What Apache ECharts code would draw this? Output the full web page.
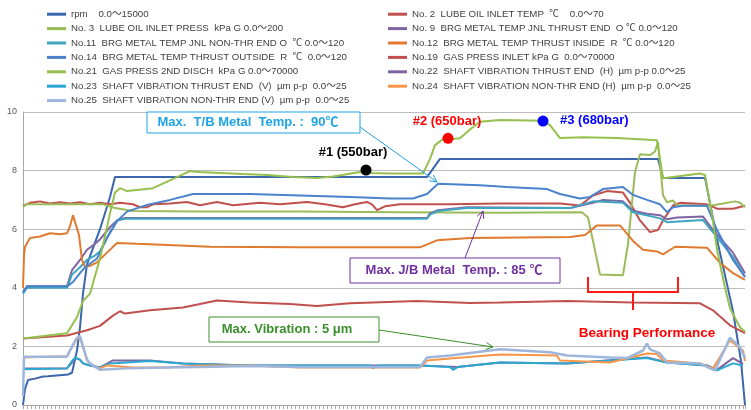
<!DOCTYPE html>
<html>
<head>
<meta charset="utf-8">
<script src="https://cdn.jsdelivr.net/npm/echarts@6/dist/echarts.min.js"></script>
<style>
  html, body { margin: 0; padding: 0; background: #fff; }
  #chart { width: 751px; height: 410px; }
</style>
</head>
<body>
<div id="chart"></div>
<script>
// time axis is just sample position (0..722), values on the common 0-10 scale
const rpm = [[0,0],[2,0.55],[5,0.85],[12,0.9],[20,0.97],[25,0.98],[27,1.04],[45,1.04],[49,1.1],[54,1.86],[57,2.65],[60,3.8],[64,4.8],[77,6.0],[87,7.1],[92,7.78],[404,7.78],[417,8.4],[635,8.4],[640,7.75],[682,7.75],[695,5.5],[710,3.2],[718,1.5],[722,0]];
const no2 = [[0,6.8],[7,6.9],[17,6.95],[27,6.88],[37,6.92],[47,6.88],[57,6.92],[67,6.85],[77,6.9],[87,6.85],[97,6.9],[110,6.85],[117,6.75],[124,6.75],[130,6.85],[147,6.88],[164,6.93],[177,6.82],[194,6.93],[210,6.82],[237,6.9],[257,6.85],[284,6.93],[302,6.85],[320,6.75],[332,6.85],[344,6.93],[349,6.85],[354,6.65],[362,6.78],[377,6.85],[427,6.85],[477,6.88],[537,6.88],[557,6.81],[570,7.15],[584,7.3],[600,7.25],[607,6.9],[617,6.3],[627,5.9],[635,5.97],[640,6.3],[650,6.81],[657,6.9],[684,6.85],[694,6.7],[710,6.7],[722,6.8]];
const no3 = [[0,6.75],[3,6.85],[80,6.85],[92,6.72],[110,6.62],[177,6.6],[277,6.6],[377,6.58],[477,6.56],[559,6.58],[565,6.4],[570,5.6],[577,4.45],[600,4.43],[605,5.5],[612,7.95],[617,8.56],[627,8.53],[632,8.65],[635,8.97],[640,7.16],[644,6.92],[650,6.98],[654,6.82],[687,6.8],[712,6.95],[717,6.9],[722,6.75]];
const no9 = [[0,3.85],[4,4.05],[44,4.05],[49,4.6],[57,4.95],[64,5.3],[72,5.5],[77,5.65],[87,6.07],[94,6.3],[102,6.38],[404,6.38],[407,6.54],[415,6.65],[444,6.75],[547,6.72],[570,6.9],[580,7.0],[600,6.95],[610,6.63],[624,6.53],[637,6.48],[644,6.34],[654,6.4],[680,6.43],[690,5.97],[710,5.2],[722,4.5]];
const no11 = [[0,3.8],[4,4.0],[44,4.0],[49,4.45],[57,4.7],[64,4.95],[72,5.1],[77,5.25],[87,5.9],[94,6.3],[102,6.36],[404,6.36],[407,6.5],[415,6.62],[444,6.72],[547,6.72],[570,6.95],[600,6.9],[610,6.58],[637,6.37],[644,6.24],[680,6.31],[694,5.73],[710,5.05],[722,4.37]];
const no12 = [[0,4.0],[1,5.1],[2,5.4],[7,5.7],[17,5.75],[27,5.86],[37,5.83],[44,5.86],[47,6.1],[50,6.48],[52,6.25],[54,6.3],[56,5.8],[59,4.95],[62,4.72],[67,4.75],[74,4.87],[84,5.2],[94,5.53],[114,5.5],[187,5.4],[277,5.38],[397,5.38],[414,5.62],[447,5.7],[547,5.73],[562,5.8],[574,6.13],[597,6.13],[610,5.6],[620,5.3],[634,5.24],[640,5.14],[652,5.4],[684,5.37],[697,4.85],[710,4.5],[722,4.27]];
const no14 = [[0,3.85],[4,4.05],[44,4.05],[50,4.2],[57,4.5],[62,4.7],[74,5.0],[84,5.7],[94,6.27],[104,6.6],[124,6.83],[147,7.0],[170,7.2],[227,7.2],[277,7.15],[327,7.1],[367,7.05],[390,7.05],[404,7.2],[415,7.55],[457,7.5],[484,7.44],[524,7.37],[537,7.2],[557,7.05],[567,7.1],[580,7.37],[600,7.44],[610,7.17],[624,7.0],[637,6.85],[644,6.58],[650,6.75],[660,6.8],[684,6.8],[694,5.97],[710,4.95],[722,4.37]];
const no19 = [[0,2.27],[44,2.37],[64,2.55],[77,2.7],[90,3.05],[97,3.2],[102,3.12],[127,3.23],[160,3.33],[194,3.57],[227,3.5],[267,3.45],[294,3.38],[327,3.47],[394,3.55],[447,3.48],[477,3.5],[544,3.55],[610,3.5],[677,3.47],[690,3.23],[707,2.72],[722,2.45]];
const no21 = [[0,2.27],[44,2.45],[54,3.0],[60,3.55],[67,3.8],[72,4.4],[77,5.0],[87,6.54],[92,7.25],[97,7.4],[104,7.3],[130,7.4],[167,7.98],[177,7.95],[197,7.92],[220,7.88],[244,7.85],[270,7.78],[294,7.75],[310,7.8],[337,7.95],[350,7.92],[367,7.9],[400,7.9],[407,8.4],[412,8.87],[419,9.05],[437,9.1],[447,9.4],[457,9.67],[477,9.73],[520,9.7],[527,9.55],[537,9.11],[560,9.14],[594,9.11],[634,9.04],[640,7.74],[677,7.9],[682,7.85],[689,6.5],[694,5.3],[702,4.0],[707,3.3],[717,2.65],[722,2.5]];
const no22 = [[0,1.25],[44,1.25],[49,1.45],[52,1.6],[57,1.55],[60,1.42],[67,1.35],[77,1.28],[90,1.52],[127,1.52],[160,1.42],[227,1.35],[327,1.35],[397,1.35],[434,1.3],[477,1.45],[544,1.42],[624,1.62],[644,1.45],[684,1.35],[694,1.2],[710,1.6],[720,1.4]];
const no23 = [[0,1.22],[44,1.25],[49,1.5],[52,1.62],[57,1.55],[60,1.42],[67,1.35],[77,1.28],[87,1.42],[127,1.5],[160,1.42],[227,1.35],[347,1.35],[350,1.25],[355,1.35],[397,1.35],[427,1.3],[430,1.2],[435,1.3],[477,1.45],[544,1.42],[624,1.6],[644,1.45],[684,1.35],[694,1.18],[710,1.42],[720,1.35]];
const no24 = [[0,1.62],[2,1.68],[44,1.66],[49,1.97],[54,2.27],[57,2.3],[60,1.97],[64,1.52],[67,1.42],[74,1.28],[77,1.25],[84,1.35],[110,1.28],[144,1.28],[177,1.35],[227,1.35],[277,1.28],[397,1.28],[404,1.52],[427,1.59],[477,1.72],[534,1.69],[537,1.52],[587,1.45],[624,1.76],[634,1.74],[640,1.52],[677,1.42],[690,1.25],[707,2.2],[720,1.86],[722,1.5]];
const no25 = [[0,0.3],[1,1.65],[44,1.65],[49,2.0],[54,2.3],[57,2.35],[60,2.0],[64,1.55],[67,1.42],[77,1.2],[104,1.25],[144,1.28],[177,1.3],[227,1.33],[277,1.3],[397,1.3],[404,1.62],[427,1.69],[467,1.86],[477,1.9],[527,1.8],[544,1.69],[587,1.62],[604,1.6],[620,1.86],[624,2.1],[627,1.9],[637,1.76],[644,1.45],[677,1.42],[687,1.25],[692,1.18],[707,2.3],[717,1.97],[722,1.6]];

// pressure test points on No.21
const testPoints = [
  { coord: [343, 8.02], color: '#000000' },
  { coord: [425, 9.1], color: '#ff0000' },
  { coord: [520, 9.69], color: '#0000ff' }
];

const names = {
  rpm: 'rpm    0.0～15000',
  no2: 'No. 2  LUBE OIL INLET TEMP  ℃    0.0～70',
  no3: 'No. 3  LUBE OIL INLET PRESS  kPa G 0.0～200',
  no9: 'No. 9  BRG METAL TEMP JNL THRUST END  O ℃ 0.0～120',
  no11: 'No.11  BRG METAL TEMP JNL NON-THR END O  ℃ 0.0～120',
  no12: 'No.12  BRG METAL TEMP THRUST INSIDE  R  ℃ 0.0～120',
  no14: 'No.14  BRG METAL TEMP THRUST OUTSIDE  R  ℃  0.0～120',
  no19: 'No.19  GAS PRESS INLET kPa G  0.0～70000',
  no21: 'No.21  GAS PRESS 2ND DISCH  kPa G 0.0～70000',
  no22: 'No.22  SHAFT VIBRATION THRUST END  (H)  µm p-p 0.0～25',
  no23: 'No.23  SHAFT VIBRATION THRUST END  (V)  µm p-p  0.0～25',
  no24: 'No.24  SHAFT VIBRATION NON-THR END (H)  µm p-p  0.0～25',
  no25: 'No.25  SHAFT VIBRATION NON-THR END (V)  µm p-p  0.0～25'
};

const seriesDefs = [
  ['rpm', rpm, '#3c66ae', 2],
  ['no2', no2, '#c0504d', 2],
  ['no3', no3, '#9bbb59', 2],
  ['no9', no9, '#8064a2', 2],
  ['no11', no11, '#3fa6c0', 2],
  ['no12', no12, '#e07a2e', 2],
  ['no14', no14, '#4a82cc', 2],
  ['no19', no19, '#c0504d', 2],
  ['no21', no21, '#96c04e', 2],
  ['no22', no22, '#8064a2', 2],
  ['no23', no23, '#2aa8d0', 2],
  ['no24', no24, '#f79646', 2],
  ['no25', no25, '#9fb6dc', 2.5]
];

const font = "'Liberation Sans', 'Noto Sans CJK JP', sans-serif";
const legendFont = "'Liberation Sans Narrow', 'Liberation Sans', 'Noto Sans CJK JP', sans-serif";

const series = seriesDefs.map(function (d) {
  const s = {
    name: names[d[0]],
    type: 'line',
    data: d[1],
    symbol: 'none',
    color: d[2],
    lineStyle: { width: d[3], color: d[2] },
    silent: true
  };
  if (d[0] === 'no21') {
    s.markPoint = {
      symbol: 'circle',
      symbolSize: 11,
      label: { show: false },
      data: testPoints.map(function (p) {
        return { coord: p.coord, itemStyle: { color: p.color } };
      })
    };
  }
  return s;
});

const legendBase = {
  orient: 'vertical',
  top: 2,
  itemWidth: 19,
  itemHeight: 3,
  itemGap: 0,
  icon: 'rect',
  selectedMode: false,
  textStyle: { fontFamily: legendFont, fontSize: 9.7, color: '#404040', lineHeight: 14.4 }
};

// little V-shaped arrow heads
function head(tip, from) {
  const dx = tip[0] - from[0], dy = tip[1] - from[1];
  const len = Math.sqrt(dx * dx + dy * dy);
  const ux = dx / len, uy = dy / len;
  const bx = tip[0] - 7 * ux, by = tip[1] - 7 * uy;
  return [[bx - 3.5 * uy, by + 3.5 * ux], tip, [bx + 3.5 * uy, by - 3.5 * ux]];
}

function callout(box, textX, text, color, from, to) {
  return [
    { type: 'rect', z: 100, shape: { x: box[0], y: box[1], width: box[2], height: box[3] },
      style: { fill: '#fff', stroke: color, lineWidth: 1 } },
    { type: 'text', z: 101, x: textX, y: box[1] + box[3] / 2,
      style: { text: text, fill: color, font: 'bold 13px ' + font, align: 'center', verticalAlign: 'middle' } },
    { type: 'line', z: 100, shape: { x1: from[0], y1: from[1], x2: to[0], y2: to[1] },
      style: { stroke: color, lineWidth: 1 } },
    { type: 'polyline', z: 100, shape: { points: head(to, from) },
      style: { stroke: color, lineWidth: 1, fill: null } }
  ];
}

const graphics = []
  .concat(callout([147, 112, 213, 21], 248, 'Max.  T/B Metal  Temp. :  90℃', '#1fa3e3', [360, 127], [437, 182]))
  .concat(callout([350, 258, 210, 25], 454, 'Max. J/B Metal  Temp. : 85 ℃', '#7030a0', [465, 258], [483, 211]))
  .concat(callout([209, 317, 170, 25], 287, 'Max. Vibration : 5 μm', '#3a8f2a', [379, 330], [493, 347]))
  .concat([
    { type: 'text', z: 101, x: 353, y: 152,
      style: { text: '#1 (550bar)', fill: '#000', font: 'bold 13px ' + font, align: 'center', verticalAlign: 'middle' } },
    { type: 'text', z: 101, x: 447, y: 121,
      style: { text: '#2 (650bar)', fill: '#ff0000', font: 'bold 13px ' + font, align: 'center', verticalAlign: 'middle' } },
    { type: 'text', z: 101, x: 560, y: 120,
      style: { text: '#3 (680bar)', fill: '#0000ff', font: 'bold 13px ' + font, align: 'left', verticalAlign: 'middle' } },
    { type: 'polyline', z: 100, shape: { points: [[588, 277], [588, 292], [678, 292], [678, 277]] },
      style: { stroke: '#ff1a1a', lineWidth: 2, fill: null } },
    { type: 'line', z: 100, shape: { x1: 633, y1: 292, x2: 633, y2: 310 },
      style: { stroke: '#ff1a1a', lineWidth: 2 } },
    { type: 'text', z: 101, x: 647, y: 333,
      style: { text: 'Bearing Performance', fill: '#ff0000', font: 'bold 13.5px ' + font, align: 'center', verticalAlign: 'middle' } }
  ]);

const chart = echarts.init(document.getElementById('chart'));
chart.setOption({
  animation: false,
  backgroundColor: '#fff',
  legend: [
    Object.assign({}, legendBase, { left: 42, data: [names.rpm, names.no3, names.no11, names.no14, names.no21, names.no23, names.no25] }),
    Object.assign({}, legendBase, { left: 383, data: [names.no2, names.no9, names.no12, names.no19, names.no22, names.no24] })
  ],
  grid: { left: 23, right: 6, top: 112, bottom: 5 },
  xAxis: {
    type: 'value',
    min: 0,
    max: 722,
    interval: 4,
    axisLabel: { show: false },
    splitLine: { show: false },
    axisLine: { lineStyle: { color: '#a6a6a6' } },
    axisTick: { show: true, length: 4, lineStyle: { color: '#a6a6a6' } }
  },
  yAxis: {
    type: 'value',
    min: 0,
    max: 10,
    interval: 2,
    axisLine: { show: true, lineStyle: { color: '#a6a6a6' } },
    axisTick: { show: false },
    axisLabel: { margin: 6, fontFamily: font, fontSize: 9, color: '#595959' },
    splitLine: { lineStyle: { color: '#bdbdbd', width: 1 } }
  },
  series: series,
  graphic: graphics
});
</script>
</body>
</html>
